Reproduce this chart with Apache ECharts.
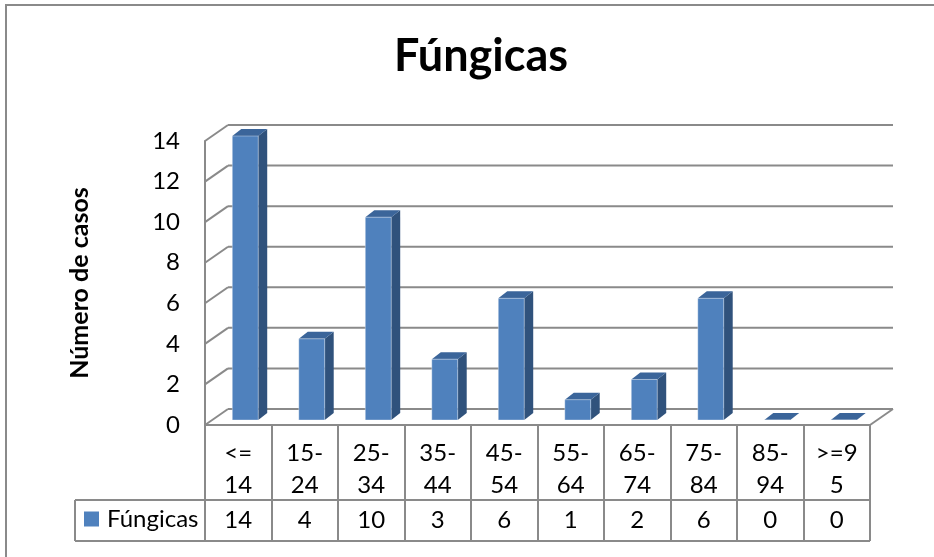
<!DOCTYPE html>
<html>
<head>
<meta charset="utf-8">
<title>Fúngicas</title>
<script src="https://cdn.jsdelivr.net/npm/echarts@6/dist/echarts.min.js"></script>
<style>
  html, body { margin: 0; padding: 0; background: #fff; }
  #chart { width: 934px; height: 557px; }
</style>
</head>
<body>
<div id="chart"></div>
<script>
// Age groups (two-line labels as they appear in the table header)
const categories = ['<=\n14', '15-\n24', '25-\n34', '35-\n44', '45-\n54', '55-\n64', '65-\n74', '75-\n84', '85-\n94', '>=9\n5'];
const seriesName = 'Fúngicas';
const values = [14, 4, 10, 3, 6, 1, 2, 6, 0, 0];
const yTicks = [0, 2, 4, 6, 8, 10, 12, 14];

// 3D look: offset of the back wall and of the column faces
const WALL_DX = 23, WALL_DY = 16;
const FRONT_DX = 7, FRONT_DY = 5;
const SIDE_DX = 9, SIDE_DY = 7;
// data table below the floor
const ROW1_H = 75, ROW2_H = 41, KEY_W = 130;

const LINE = '#8a8a8a';
const FONT = 'Lato, "Noto Sans", sans-serif';

const chart = echarts.init(document.getElementById('chart'));

function renderFrame(params, api) {
  const cs = params.coordSys;
  const x0 = cs.x, x1 = cs.x + cs.width;
  const yFloor = api.coord([0, 0])[1];
  const lines = [];
  const seg = (ax, ay, bx, by) => lines.push({
    type: 'line',
    shape: { x1: ax, y1: ay, x2: bx, y2: by },
    style: { stroke: LINE, lineWidth: 2 }
  });
  yTicks.forEach(v => {
    const y = api.coord([0, v])[1];
    seg(x0 + WALL_DX, y - WALL_DY, x1 + WALL_DX, y - WALL_DY);   // back wall gridline
    seg(x0, y, x0 + WALL_DX, y - WALL_DY);                       // side wall gridline
  });
  seg(x1, yFloor, x1 + WALL_DX, yFloor - WALL_DY);               // floor right edge
  // legend cell of the data table
  const yr1 = yFloor + ROW1_H, yr2 = yFloor + ROW1_H + ROW2_H;
  seg(x0 - KEY_W, yr1, x0, yr1);
  seg(x0 - KEY_W, yr2, x1, yr2);
  seg(x0 - KEY_W, yr1, x0 - KEY_W, yr2);
  return { type: 'group', children: lines };
}

function renderColumn(params, api) {
  const idx = api.value(0), v = api.value(1);
  const top = api.coord([idx, v]);
  const base = api.coord([idx, 0]);
  const band = api.size([1, 0])[0];
  const w = band * 0.39;
  const cx = base[0] + FRONT_DX;
  const xl = cx - w / 2, xr = cx + w / 2;
  const yb = base[1] - FRONT_DY, yt = top[1] - FRONT_DY;
  return {
    type: 'group',
    children: [
      { type: 'polygon',
        shape: { points: [[xr, yb], [xr + SIDE_DX, yb - SIDE_DY], [xr + SIDE_DX, yt - SIDE_DY], [xr, yt]] },
        style: { fill: '#30527c' } },
      { type: 'polygon',
        shape: { points: [[xl, yt], [xl + SIDE_DX, yt - SIDE_DY], [xr + SIDE_DX, yt - SIDE_DY], [xr, yt]] },
        style: { fill: '#3b659a' } },
      { type: 'rect',
        shape: { x: xl, y: yt, width: w, height: yb - yt },
        style: { fill: '#4f81bd', stroke: 'rgba(255,255,255,0.35)', lineWidth: 1 } }
    ]
  };
}

const option = {
  animation: false,
  backgroundColor: '#fff',
  title: {
    text: 'Fúngicas',
    left: 476,
    textAlign: 'center',
    top: 29,
    textStyle: { fontFamily: FONT, fontWeight: 'bold', fontSize: 45, color: '#000' }
  },
  legend: {
    data: [{ name: seriesName, icon: 'rect', itemStyle: { color: '#4f81bd' } }],
    left: 84,
    top: 507,
    padding: 0,
    itemWidth: 15,
    itemHeight: 15,
    textStyle: { fontFamily: FONT, fontSize: 24, color: '#000', padding: [0, 0, 0, 3] }
  },
  grid: { left: 205, top: 141, width: 665, height: 284 },
  xAxis: [
    {
      type: 'category',
      data: categories,
      position: 'bottom',
      axisLine: { show: true, lineStyle: { color: LINE, width: 2 } },
      axisTick: { show: true, length: ROW1_H + ROW2_H, lineStyle: { color: LINE, width: 2 } },
      axisLabel: { interval: 0, margin: 12, fontFamily: FONT, fontSize: 24, lineHeight: 32, color: '#000' },
      splitLine: { show: false }
    },
    {
      type: 'category',
      data: categories,
      position: 'bottom',
      offset: ROW1_H,
      axisLine: { show: true, lineStyle: { color: LINE, width: 2 } },
      axisTick: { show: false },
      axisLabel: {
        interval: 0, margin: 8, fontFamily: FONT, fontSize: 24, lineHeight: 24, color: '#000',
        formatter: (val, i) => String(values[i])
      },
      splitLine: { show: false }
    }
  ],
  yAxis: {
    type: 'value',
    min: 0,
    max: 14,
    interval: 2,
    name: 'Número de casos',
    nameLocation: 'middle',
    nameRotate: 90,
    nameGap: 113,
    nameTextStyle: { fontFamily: FONT, fontWeight: 'bold', fontSize: 25, color: '#000' },
    axisLine: { show: true, lineStyle: { color: LINE, width: 2 } },
    axisTick: { show: false },
    axisLabel: { margin: 25, fontFamily: FONT, fontSize: 24, color: '#000' },
    splitLine: { show: false }
  },
  series: [
    {
      type: 'custom',
      name: 'frame',
      silent: true,
      z: 1,
      renderItem: renderFrame,
      data: [[0, 0]]
    },
    {
      type: 'custom',
      name: seriesName,
      z: 2,
      itemStyle: { color: '#4f81bd' },
      renderItem: renderColumn,
      data: values.map((v, i) => [i, v])
    }
  ],
  graphic: [
    { type: 'rect', z: -1, silent: true,
      shape: { x: 6, y: 5, width: 1000, height: 1000 },
      style: { fill: 'none', stroke: LINE, lineWidth: 2 } }
  ]
};

chart.setOption(option);
</script>
</body>
</html>
